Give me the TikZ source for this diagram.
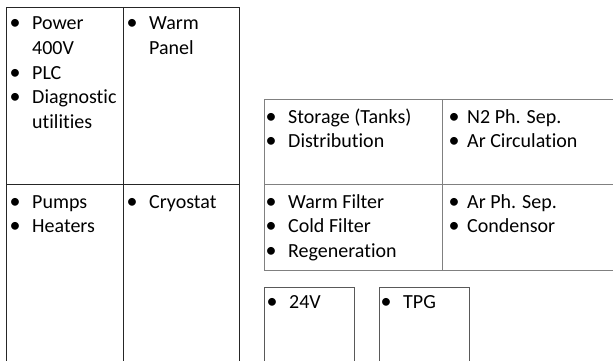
\documentclass[tikz,border=0pt]{standalone}
\usepackage{fontspec}
\setmainfont{Carlito}[Ligatures={NoCommon}]
\begin{document}
\begin{tikzpicture}[x=1pt,y=-1pt,
  dark/.style={draw=black!85,line width=0.9pt},
  grayline/.style={draw=black!50,line width=0.9pt},
  boxline/.style={draw=black!65,line width=0.9pt},
  txt/.style={anchor=base west,inner sep=0pt,font=\fontsize{20}{24}\selectfont},
  bul/.style={anchor=base,inner sep=0pt,font=\fontsize{22}{24}\selectfont}]
\useasboundingbox (0,0) rectangle (613,361);
% left table
\draw[dark] (6,361) -- (6,7) -- (239,7) -- (239,361);
\draw[dark] (123,7) -- (123,361);
\draw[dark] (6,184) -- (239,184);
% right table
\draw[grayline] (613,99) -- (264,99) -- (264,270) -- (613,270);
\draw[grayline] (442,99) -- (442,270);
\draw[grayline] (264,184) -- (613,184);
% small boxes
\draw[boxline] (264,365) -- (264,287) -- (354,287) -- (354,365);
\draw[boxline] (379,365) -- (379,287) -- (469,287) -- (469,365);
% cell 1
\node[bul] (b1) at (15,30) {\textbullet};
\node[txt] (t1) at (32,30) {Power};
\node[txt] (t2) at (32,54.5) {400V};
\node[bul] (b2) at (15,79) {\textbullet};
\node[txt] (t3) at (32,79) {PLC};
\node[bul] (b3) at (15,103.5) {\textbullet};
\node[txt] (t4) at (32,103.5) {Diagnostic};
\node[txt] (t5) at (32,128) {utilities};
% cell 2
\node[bul] (b4) at (132,30) {\textbullet};
\node[txt] (t6) at (149,30) {Warm};
\node[txt] (t7) at (149,54.5) {Panel};
% cell 3
\node[bul] (b5) at (15,208) {\textbullet};
\node[txt] (t8) at (32,208) {Pumps};
\node[bul] (b6) at (15,232.5) {\textbullet};
\node[txt] (t9) at (32,232.5) {Heaters};
% cell 4
\node[bul] (b7) at (132,208) {\textbullet};
\node[txt] (t10) at (149,208) {Cryostat};
% right table
\node[bul] (b8) at (271,123.5) {\textbullet};
\node[txt] (t11) at (288,123.5) {Storage (Tanks)};
\node[bul] (b9) at (271,147.5) {\textbullet};
\node[txt] (t12) at (288,147.5) {Distribution};
\node[bul] (b10) at (454,123.5) {\textbullet};
\node[txt] (t13) at (467,123.5) {N2 Ph. Sep.};
\node[bul] (b11) at (454,147.5) {\textbullet};
\node[txt] (t14) at (467,147.5) {Ar Circulation};
\node[bul] (b12) at (271,208) {\textbullet};
\node[txt] (t15) at (288,208) {Warm Filter};
\node[bul] (b13) at (271,232.5) {\textbullet};
\node[txt] (t16) at (288,232.5) {Cold Filter};
\node[bul] (b14) at (271,257) {\textbullet};
\node[txt] (t17) at (288,257) {Regeneration};
\node[bul] (b15) at (454,208) {\textbullet};
\node[txt] (t18) at (467,208) {Ar Ph. Sep.};
\node[bul] (b16) at (454,232.5) {\textbullet};
\node[txt] (t19) at (467,232.5) {Condensor};
% small boxes text
\node[bul] (b17) at (272,308) {\textbullet};
\node[txt] (t20) at (289,308) {24V};
\node[bul] (b18) at (386,308) {\textbullet};
\node[txt] (t21) at (403,308) {TPG};
\end{tikzpicture}
\end{document}
